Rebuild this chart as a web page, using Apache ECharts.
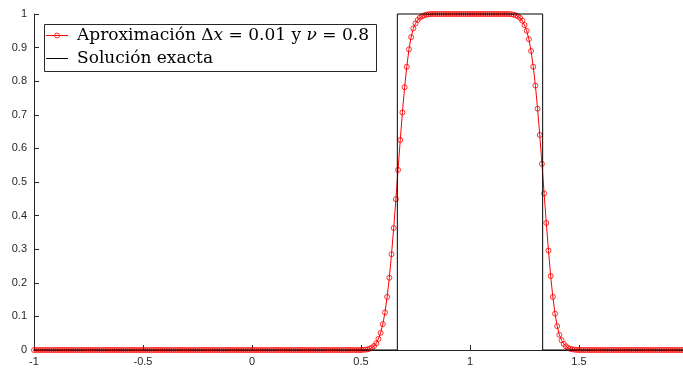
<!DOCTYPE html>
<html>
<head>
<meta charset="utf-8">
<script src="https://cdn.jsdelivr.net/npm/echarts@6/dist/echarts.min.js"></script>
<style>
  html, body { margin: 0; padding: 0; background: #fff; }
  #chart { width: 683px; height: 370px; }
</style>
</head>
<body>
<div id="chart"></div>
<script>
// Grid spacing and domain of the numerical solution
const dx = 0.01;
const xStart = -1;

// Approximate solution u(x), one value per grid node x = -1, -0.99, ..., 1.99
const approxValues = [
  0, 0, 0, 0, 0, 0, 0, 0, 0, 0,            // -1.00 .. -0.91
  0, 0, 0, 0, 0, 0, 0, 0, 0, 0,            // -0.90 .. -0.81
  0, 0, 0, 0, 0, 0, 0, 0, 0, 0,
  0, 0, 0, 0, 0, 0, 0, 0, 0, 0,
  0, 0, 0, 0, 0, 0, 0, 0, 0, 0,
  0, 0, 0, 0, 0, 0, 0, 0, 0, 0,            // -0.50 .. -0.41
  0, 0, 0, 0, 0, 0, 0, 0, 0, 0,
  0, 0, 0, 0, 0, 0, 0, 0, 0, 0,
  0, 0, 0, 0, 0, 0, 0, 0, 0, 0,
  0, 0, 0, 0, 0, 0, 0, 0, 0, 0,
  0, 0, 0, 0, 0, 0, 0, 0, 0, 0,            //  0.00 .. 0.09
  0, 0, 0, 0, 0, 0, 0, 0, 0, 0,
  0, 0, 0, 0, 0, 0, 0, 0, 0, 0,
  0, 0, 0, 0, 0, 0, 0, 0, 0, 0,
  0, 0, 0, 0, 0, 0, 0, 0, 0, 0,            //  0.40 .. 0.49
  0, 0.0005, 0.001, 0.002, 0.004, 0.007, 0.012, 0.020, 0.033, 0.051,
  0.077, 0.112, 0.158, 0.215, 0.285, 0.363, 0.449, 0.536, 0.625, 0.707,
  0.782, 0.843, 0.895, 0.931, 0.957, 0.972, 0.982, 0.989, 0.993, 0.996,
  0.998, 0.999, 1, 1, 1, 1, 1, 1, 1, 1,    //  0.80 .. 0.89
  1, 1, 1, 1, 1, 1, 1, 1, 1, 1,
  1, 1, 1, 1, 1, 1, 1, 1, 1, 1,            //  1.00 .. 1.09
  1, 1, 1, 1, 1, 1, 1, 1, 1, 0.999,
  0.998, 0.996, 0.993, 0.988, 0.980, 0.967, 0.950, 0.925, 0.890, 0.843,
  0.787, 0.718, 0.640, 0.554, 0.466, 0.378, 0.296, 0.220, 0.158, 0.108,
  0.071, 0.045, 0.029, 0.018, 0.011, 0.006, 0.0035, 0.002, 0.001, 0.0005,
  0, 0, 0, 0, 0, 0, 0, 0, 0, 0,            //  1.50 .. 1.59
  0, 0, 0, 0, 0, 0, 0, 0, 0, 0,
  0, 0, 0, 0, 0, 0, 0, 0, 0, 0,
  0, 0, 0, 0, 0, 0, 0, 0, 0, 0,
  0, 0, 0, 0, 0, 0, 0, 0, 0, 0             //  1.90 .. 1.99
];

// Exact solution: square pulse on [2/3, 4/3]
const exactX = [-1, 2 / 3, 2 / 3, 4 / 3, 4 / 3, 2];
const exactY = [0, 0, 1, 1, 0, 0];

// Legend texts (rich-text markup for the math symbols)
const legendLabels = [
  'Aproximación Δ{it|x} = 0.01 y {it|ν} = 0.8',
  'Solución exacta'
];

const approxData = approxValues.map((v, i) => [Math.round((xStart + i * dx) * 100) / 100, v]);
const exactData = exactX.map((x, i) => [x, exactY[i]]);

const axisColor = '#262626';
const red = '#ff0000';
const labelFont = { fontFamily: 'Liberation Sans, Arial, sans-serif', fontSize: 11, color: axisColor };
const legendFont = 'DejaVu Serif, serif';
const legendSize = 17;

// Legend box drawn as graphic elements
const legendBox = { left: 44, top: 24, width: 332, height: 47 };
const rowY = [35.5, 58.5];
const legendGraphic = [
  { type: 'rect', shape: { x: legendBox.left + 0.5, y: legendBox.top + 0.5, width: legendBox.width, height: legendBox.height },
    style: { fill: '#fff', stroke: axisColor, lineWidth: 1 }, z: 10 },
  { type: 'line', shape: { x1: 46, y1: rowY[0], x2: 68, y2: rowY[0] }, style: { stroke: red, lineWidth: 1 }, z: 11 },
  { type: 'circle', shape: { cx: 57, cy: rowY[0], r: 2.5 }, style: { fill: 'rgba(255,255,255,0)', stroke: red, lineWidth: 0.8 }, z: 12 },
  { type: 'line', shape: { x1: 46, y1: rowY[1], x2: 68, y2: rowY[1] }, style: { stroke: '#000', lineWidth: 1 }, z: 11 },
  { type: 'text', x: 77, y: rowY[0], z: 11,
    style: { text: legendLabels[0], font: legendSize + 'px ' + legendFont, fill: '#000', verticalAlign: 'middle',
      rich: { it: { fontFamily: legendFont, fontSize: legendSize, fontStyle: 'italic', fill: '#000' } } } },
  { type: 'text', x: 77, y: rowY[1], z: 11,
    style: { text: legendLabels[1], font: legendSize + 'px ' + legendFont, fill: '#000', verticalAlign: 'middle' } }
];

const chart = echarts.init(document.getElementById('chart'), null, { renderer: 'canvas' });
chart.setOption({
  animation: false,
  backgroundColor: '#fff',
  grid: { left: 34, right: -5, top: 14, bottom: 20, containLabel: false, outerBoundsMode: 'none' },
  xAxis: {
    type: 'value', min: -1, max: 2, interval: 0.5,
    axisLine: { show: true, onZero: false, lineStyle: { color: axisColor, width: 1 } },
    axisTick: { show: true, inside: true, length: 5, lineStyle: { color: axisColor, width: 1 } },
    axisLabel: Object.assign({ margin: 6, showMaxLabel: false }, labelFont),
    splitLine: { show: false }
  },
  yAxis: {
    type: 'value', min: 0, max: 1, interval: 0.1,
    axisLine: { show: true, onZero: false, lineStyle: { color: axisColor, width: 1 } },
    axisTick: { show: true, inside: true, length: 5, lineStyle: { color: axisColor, width: 1 } },
    axisLabel: Object.assign({ margin: 7, formatter: v => String(Math.round(v * 10) / 10) }, labelFont),
    splitLine: { show: false }
  },
  graphic: legendGraphic,
  series: [
    {
      name: 'Aproximación',
      type: 'line',
      data: approxData,
      symbol: 'circle',
      symbolSize: 5,
      showAllSymbol: true,
      lineStyle: { color: red, width: 1 },
      itemStyle: { color: 'rgba(255,255,255,0)', borderColor: red, borderWidth: 0.8 },
      clip: false,
      z: 2
    },
    {
      name: 'Solución exacta',
      type: 'line',
      data: exactData,
      symbol: 'none',
      lineStyle: { color: '#000', width: 1 },
      clip: false,
      z: 3
    }
  ]
});
</script>
</body>
</html>
